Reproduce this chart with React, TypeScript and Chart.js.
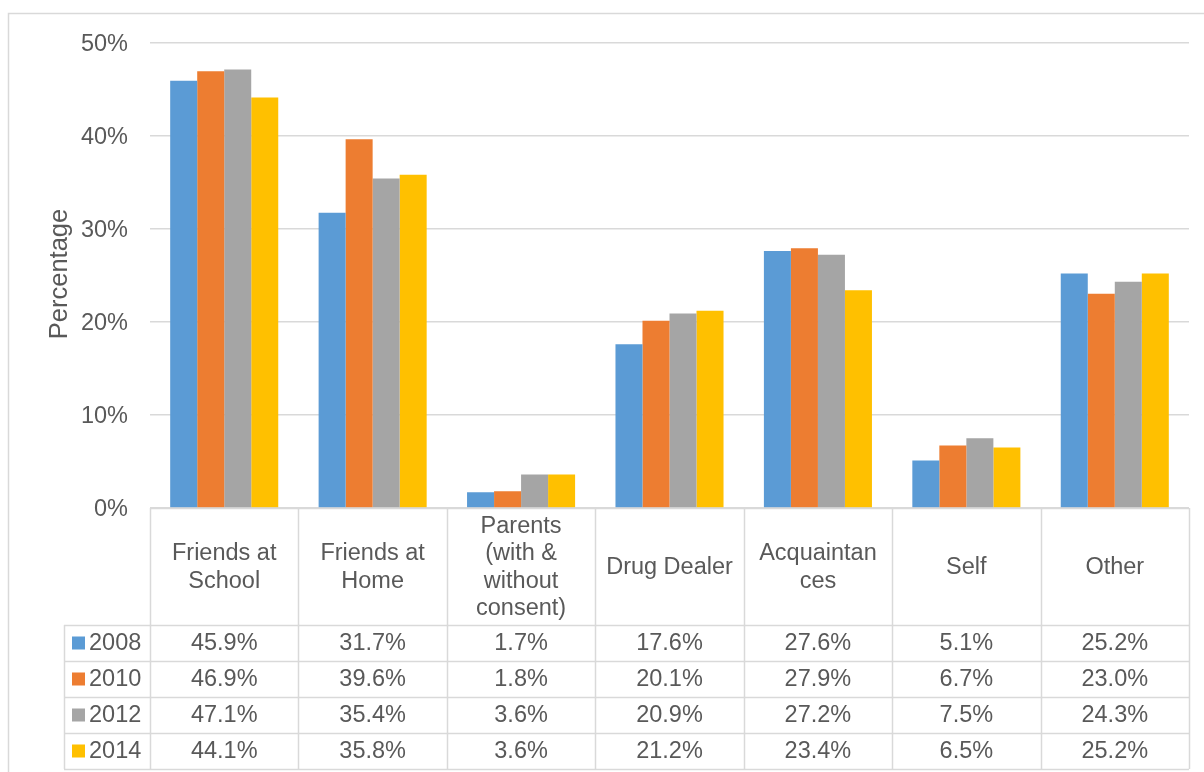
import React, { useEffect, useRef } from "react";
import { Chart, registerables } from "chart.js";

Chart.register(...registerables);

const categories: string[][] = [
  ["Friends at", "School"],
  ["Friends at", "Home"],
  ["Parents", "(with &", "without", "consent)"],
  ["Drug Dealer"],
  ["Acquaintan", "ces"],
  ["Self"],
  ["Other"],
];
const seriesNames = ["2008", "2010", "2012", "2014"];
const values2008 = [45.9, 31.7, 1.7, 17.6, 27.6, 5.1, 25.2];
const values2010 = [46.9, 39.6, 1.8, 20.1, 27.9, 6.7, 23.0];
const values2012 = [47.1, 35.4, 3.6, 20.9, 27.2, 7.5, 24.3];
const values2014 = [44.1, 35.8, 3.6, 21.2, 23.4, 6.5, 25.2];
const seriesColors = ["#5B9BD5", "#ED7D31", "#A5A5A5", "#FFC000"];
const yTicks = [0, 10, 20, 30, 40, 50];

const FONT = "'Liberation Sans', Arial, sans-serif";
const TEXT = "#595959";
const LINE = "#D9D9D9";

export default function App() {
  const ref = useRef<HTMLCanvasElement | null>(null);
  useEffect(() => {
    if (!ref.current) return;
    const allValues = [values2008, values2010, values2012, values2014];
    const tablePlugin = {
      id: "tablePlugin",
      beforeDraw(chart: any) {
        const ctx = chart.ctx;
        ctx.save();
        ctx.strokeStyle = LINE;
        ctx.lineWidth = 1.5;
        ctx.beginPath();
        ctx.moveTo(8.5, 772);
        ctx.lineTo(8.5, 13.5);
        ctx.lineTo(1204, 13.5);
        ctx.stroke();
        ctx.restore();
      },
      afterDraw(chart: any) {
        const ctx = chart.ctx;
        const xs = chart.scales.x;
        const area = chart.chartArea;
        const n = categories.length;
        const colW = (area.right - area.left) / n;
        const headerTop = area.bottom;
        const headerH = 117;
        const rowH = 36;
        const legendLeft = 64;
        const rowsTop = headerTop + headerH;
        const tableBottom = rowsTop + rowH * seriesNames.length;
        ctx.save();
        ctx.strokeStyle = LINE;
        ctx.lineWidth = 1.5;
        ctx.beginPath();
        ctx.moveTo(area.left, headerTop + 0.5);
        ctx.lineTo(area.right, headerTop + 0.5);
        for (let i = 0; i <= n; i++) {
          const x = Math.round(area.left + i * colW) + 0.5;
          ctx.moveTo(x, headerTop);
          ctx.lineTo(x, tableBottom);
        }
        ctx.moveTo(legendLeft + 0.5, rowsTop);
        ctx.lineTo(legendLeft + 0.5, tableBottom);
        for (let r = 0; r <= seriesNames.length; r++) {
          const y = Math.round(rowsTop + r * rowH) + 0.5;
          ctx.moveTo(legendLeft, y);
          ctx.lineTo(area.right, y);
        }
        ctx.stroke();

        ctx.fillStyle = TEXT;
        ctx.font = `23.5px ${FONT}`;
        ctx.textAlign = "center";
        ctx.textBaseline = "middle";
        const lh = 27.5;
        const headerMid = headerTop + headerH / 2;
        categories.forEach((lines, i) => {
          const cx = xs.getPixelForValue(i);
          const start = headerMid - ((lines.length - 1) * lh) / 2;
          lines.forEach((t, k) => ctx.fillText(t, cx, start + k * lh + 1));
        });
        allValues.forEach((vals, r) => {
          const cy = rowsTop + r * rowH + rowH / 2 + 1;
          vals.forEach((v, i) => {
            ctx.fillText(v.toFixed(1) + "%", xs.getPixelForValue(i), cy);
          });
          ctx.fillStyle = seriesColors[r];
          ctx.fillRect(72, cy - 7.5, 13, 13);
          ctx.fillStyle = TEXT;
          ctx.textAlign = "left";
          ctx.fillText(seriesNames[r], 89, cy);
          ctx.textAlign = "center";
        });

        ctx.font = `25.5px ${FONT}`;
        ctx.translate(67, 274);
        ctx.rotate(-Math.PI / 2);
        ctx.textAlign = "center";
        ctx.textBaseline = "alphabetic";
        ctx.fillText("Percentage", 0, 0);
        ctx.restore();
      },
    };

    const chart = new Chart(ref.current, {
      type: "bar",
      data: {
        labels: categories.map((c) => c.join(" ")),
        datasets: allValues.map((vals, i) => ({
          label: seriesNames[i],
          data: vals,
          backgroundColor: seriesColors[i],
          borderWidth: 0,
          categoryPercentage: 0.728,
          barPercentage: 1,
        })),
      },
      options: {
        responsive: false,
        animation: false,
        layout: { padding: { left: 0, top: 42.5, right: 15, bottom: 264 } },
        plugins: { legend: { display: false }, tooltip: { enabled: false } },
        scales: {
          x: { display: false },
          y: {
            min: 0,
            max: 50,
            afterFit: (s: any) => {
              s.width = 150;
            },
            afterBuildTicks: (s: any) => {
              s.ticks = yTicks.map((v) => ({ value: v }));
            },
            border: { display: false },
            grid: { color: LINE, lineWidth: 1.5, drawTicks: false },
            ticks: {
              padding: 22,
              labelOffset: 2,
              color: TEXT,
              font: { family: FONT, size: 23.5 },
              callback: (v: any) => v + "%",
            },
          },
        },
      },
      plugins: [tablePlugin],
    });
    return () => chart.destroy();
  }, []);

  return (
    <div style={{ position: "fixed", left: 0, top: 0, width: 1204, height: 772, background: "#fff" }}>
      <canvas ref={ref} width={1204} height={772} style={{ width: 1204, height: 772, display: "block" }} />
    </div>
  );
}
